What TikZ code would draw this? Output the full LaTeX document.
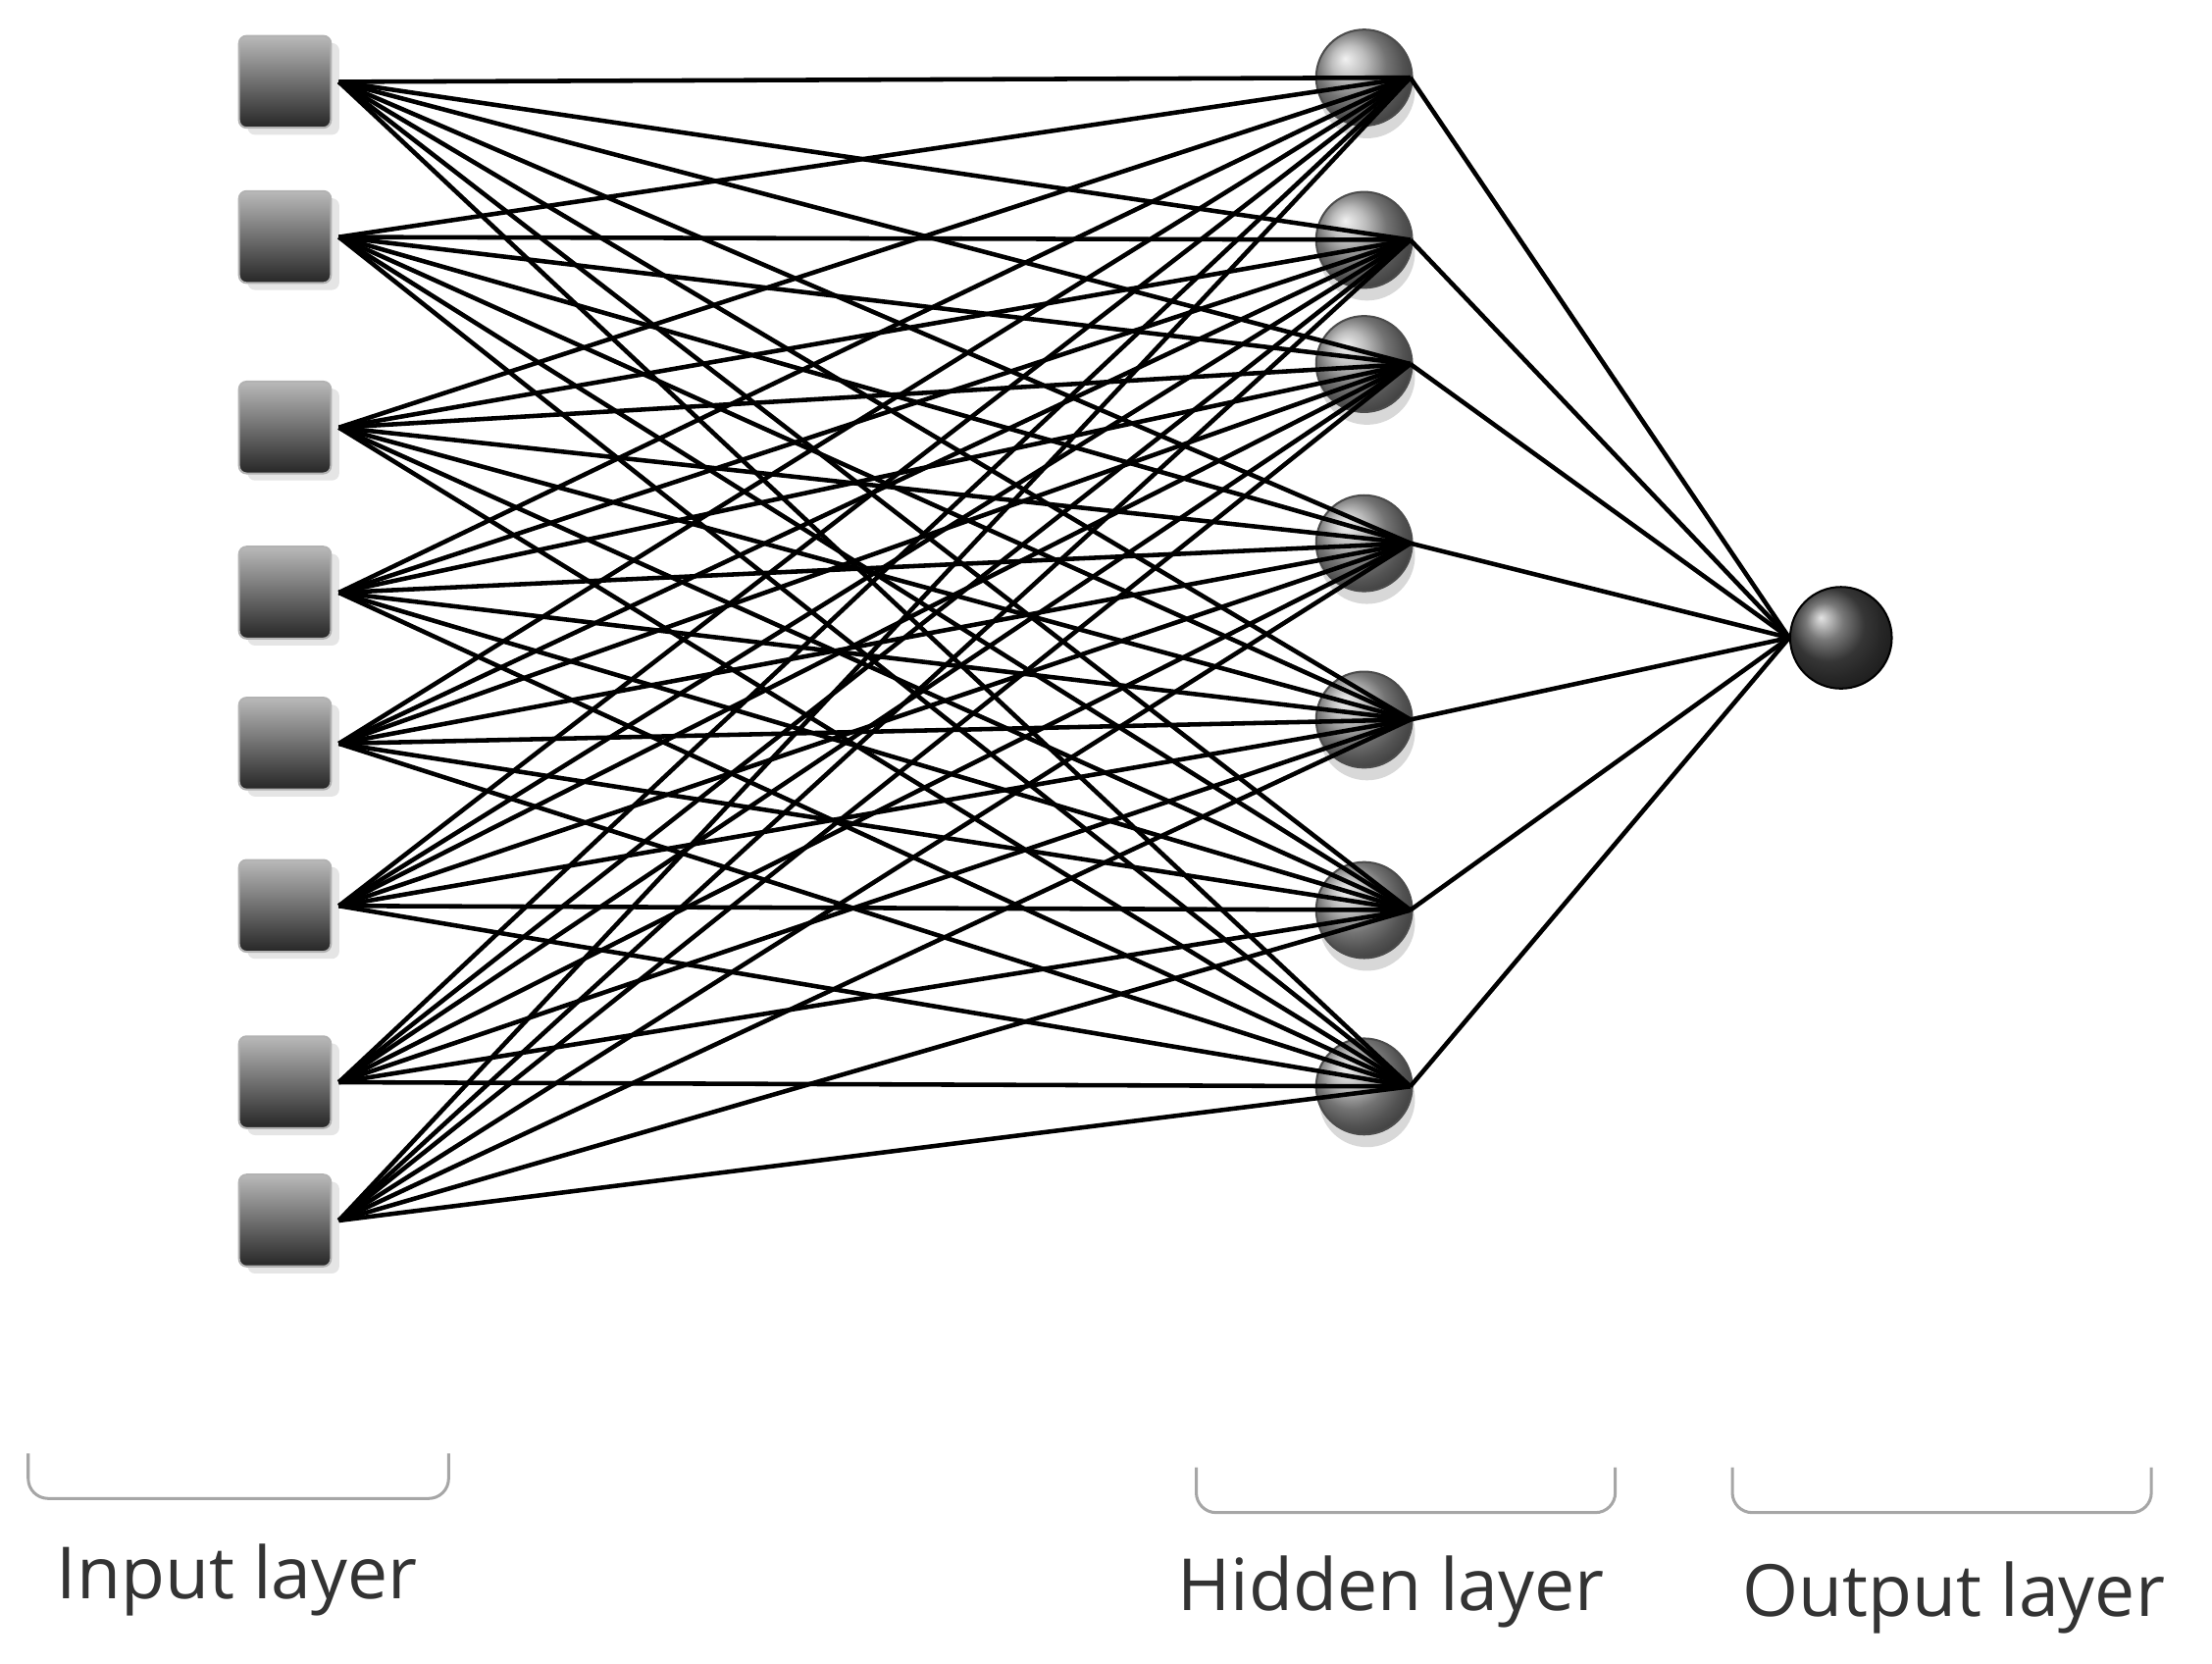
\documentclass[tikz,border=0pt]{standalone}
\usepackage{fontspec}
\setmainfont{Open Sans}
\usetikzlibrary{shadows}
\begin{document}
\begin{tikzpicture}[x=0.01cm,y=-0.01cm,
 inp/.style={draw=gray!60,rounded corners=1.5pt,minimum size=0.65cm,inner sep=0pt,top color=gray!55,bottom color=black!85,drop shadow={shadow xshift=0.06cm,shadow yshift=-0.05cm,fill=gray!40}},
 hid/.style={circle,draw=black!70,minimum size=0.68cm,inner sep=0pt,ball color=gray!70,drop shadow={shadow xshift=0.02cm,shadow yshift=-0.09cm,fill=gray!60}},
 outn/.style={circle,draw=black,minimum size=0.72cm,inner sep=0pt,ball color=black!70},
 edge/.style={line width=0.9pt,black},
 brc/.style={draw=gray!70,line width=0.6pt,rounded corners=4pt},
 lab/.style={font=\fontsize{14.5}{17}\selectfont,text=black!80}]
\useasboundingbox (0,0) rectangle (1568,1179);
\foreach \i/\y in {1/58,2/168,3/303,4/420,5/527,6/642,7/767,8/865}
  \node[inp] (i\i) at (202,\y) {};
\foreach \j/\y in {1/55,2/170,3/258,4/385,5/510,6/645,7/770}
  \node[hid] (h\j) at (967,\y) {};
\node[outn] (o) at (1305,452) {};
\foreach \i in {1,...,8}
  \foreach \j in {1,...,7}
    \draw[edge] ([xshift=0.05cm]i\i.east) -- ([xshift=-0.02cm]h\j.east);
\foreach \j in {1,...,7}
  \draw[edge] ([xshift=-0.02cm]h\j.east) -- (o.west);
\coordinate (b1a) at (20,1030); \coordinate (b1b) at (20,1062); \coordinate (b1c) at (318,1062); \coordinate (b1d) at (318,1030);
\draw[brc] (b1a) -- (b1b) -- (b1c) -- (b1d);
\coordinate (b2a) at (848,1040); \coordinate (b2b) at (848,1072); \coordinate (b2c) at (1145,1072); \coordinate (b2d) at (1145,1040);
\draw[brc] (b2a) -- (b2b) -- (b2c) -- (b2d);
\coordinate (b3a) at (1228,1040); \coordinate (b3b) at (1228,1072); \coordinate (b3c) at (1525,1072); \coordinate (b3d) at (1525,1040);
\draw[brc] (b3a) -- (b3b) -- (b3c) -- (b3d);
\node[lab] (t1) at (168,1120) {Input layer};
\node[lab] (t2) at (986,1128) {Hidden layer};
\node[lab] (t3) at (1385,1132) {Output layer};
\end{tikzpicture}
\end{document}
